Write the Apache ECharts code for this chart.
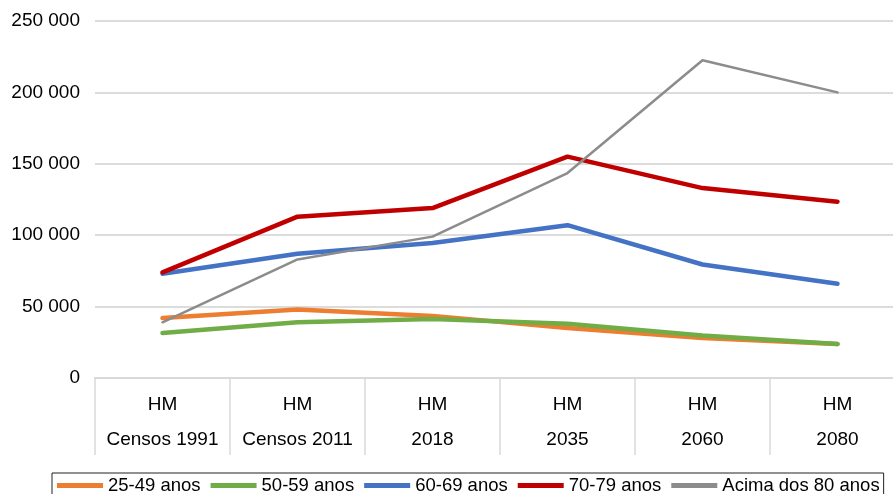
<!doctype html>
<html>
<head>
<meta charset="UTF-8">
<title>HM por grupo etário</title>
<script src="https://cdn.jsdelivr.net/npm/echarts@6/dist/echarts.min.js"></script>
<style>
  html, body { margin: 0; padding: 0; background: #fff; }
  #main { width: 893px; height: 494px; }
</style>
</head>
<body>
<div id="main"></div>
<script>
// categorias do eixo x (duas linhas: "HM" por cima do ano)
var topLabel = 'HM';
var categories = ['Censos 1991', 'Censos 2011', '2018', '2035', '2060', '2080'];

// valores
var names = ['25-49 anos', '50-59 anos', '60-69 anos', '70-79 anos', 'Acima dos 80 anos'];
var v25_49 = [42000, 48000, 43500, 35000, 28000, 23800];
var v50_59 = [31500, 39000, 41300, 38000, 29800, 23800];
var v60_69 = [73000, 87000, 94500, 107000, 79500, 66000];
var v70_79 = [74000, 113000, 119000, 155000, 133000, 123500];
var v80 = [39000, 83000, 99000, 143500, 222500, 200000];

var colors = ['#ED7D31', '#70AD47', '#4472C4', '#C00000', '#8C8C8C'];
var widths = [4.5, 4.5, 4.5, 4.5, 2.5];
var values = [v25_49, v50_59, v60_69, v70_79, v80];

var font = '"Liberation Sans", Arial, Helvetica, sans-serif';
var myChart = echarts.init(document.getElementById('main'));

var series = [];
for (var i = 0; i < names.length; i++) {
    series.push({
        name: names[i],
        type: 'line',
        data: values[i],
        symbol: 'none',
        color: colors[i],
        lineStyle: { width: widths[i], color: colors[i], cap: 'round', join: 'round' }
    });
}

var option = {
    animation: false,
    textStyle: { fontFamily: font },
    // a última coluna passa do limite da imagem, como no original
    grid: { left: 95, top: 21, width: 810, height: 357, outerBoundsMode: 'none' },
    legend: {
        data: names,
        left: 52,
        top: 473,
        width: 835,
        icon: 'rect',
        itemWidth: 46,
        itemHeight: 5,
        itemGap: 10,
        padding: [3, 4, 3, 5],
        borderColor: '#222',
        borderWidth: 1,
        textStyle: { fontSize: 18.5, color: '#000', fontFamily: font }
    },
    xAxis: {
        type: 'category',
        data: categories,
        boundaryGap: true,
        axisLine: { lineStyle: { color: '#d9d9d9', width: 2 } },
        axisTick: { show: true, interval: 0, length: 77, lineStyle: { color: '#d9d9d9', width: 1.5 } },
        axisLabel: {
            interval: 0,
            margin: 9,
            lineHeight: 35,
            fontSize: 19,
            color: '#000',
            fontFamily: font,
            formatter: function (v) { return topLabel + '\n' + v; }
        },
        splitLine: { show: false }
    },
    yAxis: {
        type: 'value',
        min: 0,
        max: 250000,
        interval: 50000,
        axisLine: { show: false },
        axisTick: { show: false },
        axisLabel: {
            margin: 15,
            fontSize: 19,
            color: '#000',
            fontFamily: font,
            formatter: function (v) { return String(v).replace(/\B(?=(\d{3})+(?!\d))/g, ' '); }
        },
        splitLine: { lineStyle: { color: '#dcdcdc', width: 2 } }
    },
    series: series
};
myChart.setOption(option);
</script>
</body>
</html>
